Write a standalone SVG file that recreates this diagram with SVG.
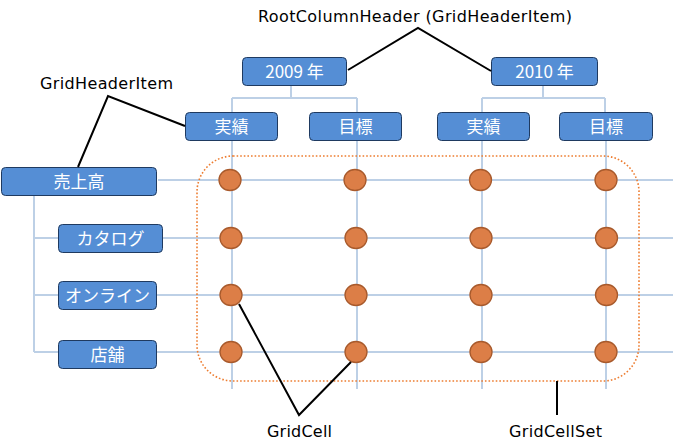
<svg xmlns="http://www.w3.org/2000/svg" width="673" height="444" viewBox="0 0 673 444">
<style>
.grid{stroke:#BDD0E6;stroke-width:2;fill:none}
.box{fill:#558ED5;stroke:#1F3A60;stroke-width:1}
.bt{fill:#fff;font-family:"Noto Sans CJK JP","DejaVu Sans",sans-serif;font-size:17px;text-anchor:middle}
.cell{fill:#DC7E47;stroke:#A85A2C;stroke-width:1.3}
.call{stroke:#000;stroke-width:2;fill:none}
.lbl{fill:#000;font-family:"DejaVu Sans",Verdana,sans-serif;font-size:16px;text-anchor:middle}
</style>
<rect width="673" height="444" fill="#fff"/>
<g id="connectors">
<g class="grid">
<path d="M291 85V98M232 98H357M543 85V98M482 98H605"/>
<path d="M232 98V112M357 98V112M482 98V112M605 98V112"/>
<path d="M232 141V389M357 141V389M482 141V389M606 141V389"/>
<path d="M158 180H673M162 238H673M157 295H673M157 352H673"/>
<path d="M34 196V352M34 238H59M34 295H58M34 352H58"/>
</g>
</g>
<g id="gridcellset"><rect x="197" y="156" width="442" height="225" rx="36" fill="none" stroke="#ED7D31" stroke-width="1.6" stroke-dasharray="1.6 2"/></g>
<g id="h2009"><rect class="box" x="242.5" y="57.5" width="104" height="28" rx="4"/><text class="bt" x="294.5" y="77.5">2009 年</text></g>
<g id="h2010"><rect class="box" x="491.5" y="57.5" width="106" height="28" rx="4"/><text class="bt" x="544.5" y="77.5">2010 年</text></g>
<g id="h2009a"><rect class="box" x="185.5" y="112.5" width="92" height="28" rx="4"/><text class="bt" x="231.5" y="132.5">実績</text></g>
<g id="h2009b"><rect class="box" x="309.5" y="112.5" width="92" height="28" rx="4"/><text class="bt" x="355.5" y="132.5">目標</text></g>
<g id="h2010a"><rect class="box" x="437.5" y="112.5" width="92" height="28" rx="4"/><text class="bt" x="483.5" y="132.5">実績</text></g>
<g id="h2010b"><rect class="box" x="559.5" y="112.5" width="93" height="28" rx="4"/><text class="bt" x="606" y="132.5">目標</text></g>
<g id="sales"><rect class="box" x="1.5" y="167.5" width="155" height="28" rx="4"/><text class="bt" x="79" y="187.5">売上高</text></g>
<g id="catalog"><rect class="box" x="58.5" y="224.5" width="104" height="28" rx="4"/><text class="bt" x="110.5" y="244.5">カタログ</text></g>
<g id="online"><rect class="box" x="58.5" y="281.5" width="98" height="28" rx="4"/><text class="bt" x="107.5" y="301.5">オンライン</text></g>
<g id="store"><rect class="box" x="58.5" y="340.5" width="98" height="28" rx="4"/><text class="bt" x="107.5" y="360.5">店舗</text></g>
<g id="cells">
<ellipse class="cell" cx="230" cy="180" rx="11" ry="10.5"/><ellipse class="cell" cx="355" cy="180" rx="11" ry="10.5"/><ellipse class="cell" cx="480.5" cy="180" rx="11" ry="10.5"/><ellipse class="cell" cx="606" cy="180" rx="11" ry="10.5"/>
<ellipse class="cell" cx="231" cy="238" rx="11" ry="10.5"/><ellipse class="cell" cx="356" cy="238" rx="11" ry="10.5"/><ellipse class="cell" cx="481" cy="238" rx="11" ry="10.5"/><ellipse class="cell" cx="606.5" cy="238" rx="11" ry="10.5"/>
<ellipse class="cell" cx="231" cy="295" rx="11" ry="10.5"/><ellipse class="cell" cx="356" cy="295" rx="11" ry="10.5"/><ellipse class="cell" cx="481" cy="295" rx="11" ry="10.5"/><ellipse class="cell" cx="606.5" cy="295" rx="11" ry="10.5"/>
<ellipse class="cell" cx="231" cy="352" rx="11" ry="10.5"/><ellipse class="cell" cx="356" cy="352" rx="11" ry="10.5"/><ellipse class="cell" cx="481" cy="352" rx="11" ry="10.5"/><ellipse class="cell" cx="606" cy="352" rx="11" ry="10.5"/>
</g>
<g id="callouts">
<path class="call" d="M348 70L418 28L491 71"/>
<path class="call" d="M185 126L108 96L78 167"/>
<path class="call" d="M239 304L299 415L351 362"/>
<path class="call" d="M557 381V415"/>
</g>
<g id="labels">
<text class="lbl" x="415" y="22" textLength="314" lengthAdjust="spacing">RootColumnHeader (GridHeaderItem)</text>
<text class="lbl" x="106.5" y="89" textLength="133" lengthAdjust="spacing">GridHeaderItem</text>
<text class="lbl" x="299.5" y="437" textLength="65" lengthAdjust="spacing">GridCell</text>
<text class="lbl" x="555.5" y="437" textLength="93" lengthAdjust="spacing">GridCellSet</text>
</g>
</svg>
